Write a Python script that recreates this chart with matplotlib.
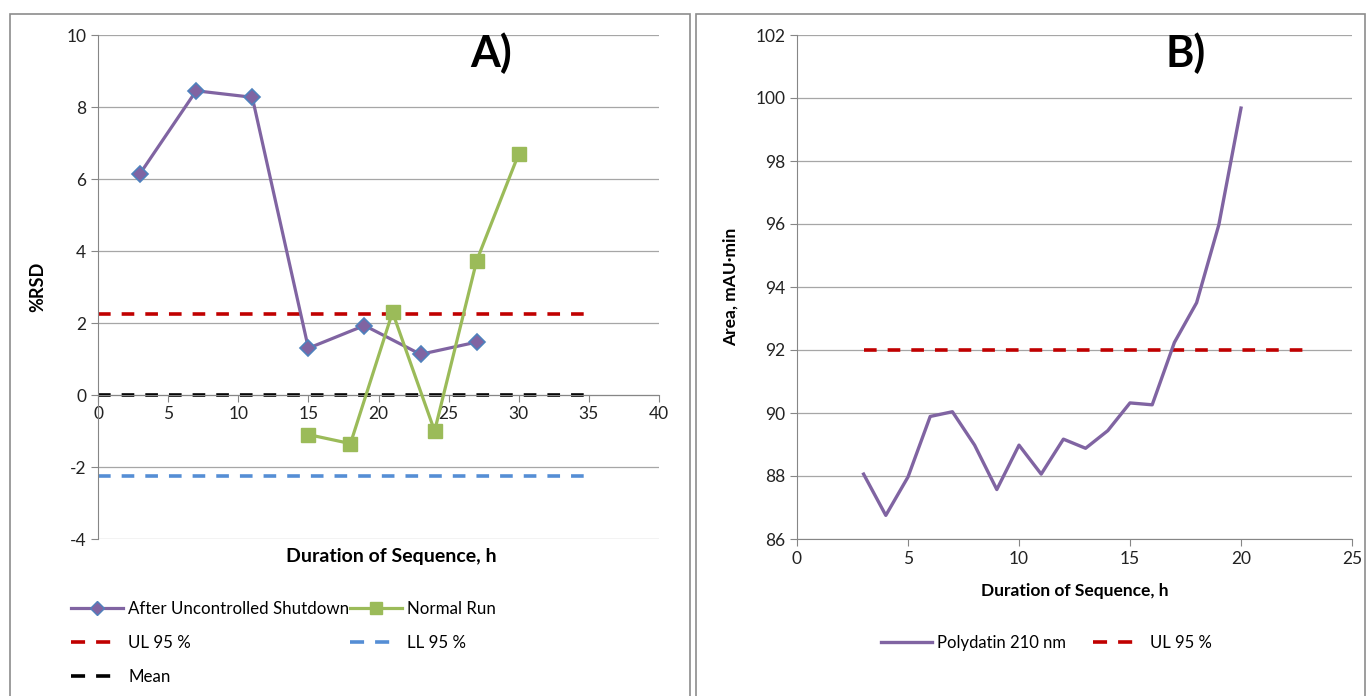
import matplotlib.pyplot as plt
from matplotlib.lines import Line2D
from matplotlib.patches import Rectangle

plt.rcParams['font.family'] = ['Lato', 'DejaVu Sans']
plt.rcParams['axes.unicode_minus'] = False

# panel A data
shutdown_x = [3, 7, 11, 15, 19, 23, 27]
shutdown_y = [6.15, 8.45, 8.27, 1.30, 1.93, 1.13, 1.47]
normal_x = [15, 18, 21, 24, 27, 30]
normal_y = [-1.10, -1.35, 2.30, -1.00, 3.73, 6.70]
limit_x = [0, 35]
ul_a = 2.24
ll_a = -2.24
mean_a = 0.0

# panel B data
poly_x = list(range(3, 21))
poly_y = [88.06, 86.75, 87.97, 89.89, 90.04, 88.98, 87.57, 88.98, 88.06,
          89.17, 88.88, 89.44, 90.32, 90.26, 92.24, 93.50, 95.97, 99.68]
ul_b_x = [3, 23]
ul_b = 92.0

purple = '#8064A2'
green = '#9BBB59'
red = '#C00000'
blue = '#558ED5'
grid = '#A6A6A6'

fig = plt.figure(figsize=(13.66, 6.96), dpi=100)

# panel borders
fig.patches.append(Rectangle((10 / 1366, -0.01), 680 / 1366, 1 - 14 / 696 + 0.01,
                             transform=fig.transFigure, fill=False, ec='#8C8C8C', lw=1.2))
fig.patches.append(Rectangle((696 / 1366, -0.01), 669 / 1366, 1 - 14 / 696 + 0.01,
                             transform=fig.transFigure, fill=False, ec='#8C8C8C', lw=1.2))


def excel_style(ax):
    for s in ['top', 'right']:
        ax.spines[s].set_visible(False)
    ax.spines['left'].set_color('#868686')
    ax.spines['bottom'].set_color('#868686')
    ax.grid(axis='y', color=grid, lw=0.9)
    ax.set_axisbelow(True)
    ax.tick_params(direction='out', length=5, color='#868686', labelsize=12.5, labelcolor='#222222')


LW = 2.6
dash = (0, (3.5, 3.05))
leg_dash = (0, (3.9, 3.05, 3.9, 3.6))

# ---- A ----
axA = fig.add_axes([98 / 1366, 1 - 539 / 696, (659 - 98) / 1366, (539 - 35) / 696])
excel_style(axA)
axA.set_xlim(0, 40)
axA.set_ylim(-4, 10)
axA.set_xticks(range(0, 41, 5))
axA.set_yticks(range(-4, 11, 2))
axA.spines['bottom'].set_position(('data', 0))
axA.tick_params(axis='x', pad=3)

axA.plot(limit_x, [ul_a, ul_a], color=red, lw=LW, ls=dash)
axA.plot(limit_x, [ll_a, ll_a], color=blue, lw=LW, ls=dash)
axA.plot(limit_x, [mean_a, mean_a], color='black', lw=LW, ls=dash)
axA.plot(shutdown_x, shutdown_y, color=purple, lw=2.3, marker='D', ms=8,
         mfc=purple, mec='#4F81BD', mew=1.2, zorder=4)
axA.plot(normal_x, normal_y, color=green, lw=2.3, marker='s', ms=10,
         mfc=green, mec=green, zorder=4)

axA.set_ylabel('%RSD', fontsize=13, fontweight='bold', labelpad=14)
axA.text(0.523, -0.035, 'Duration of Sequence, h', transform=axA.transAxes,
         ha='center', va='center', fontsize=14, fontweight='bold')
axA.text(0.7, 0.963, 'A)', transform=axA.transAxes, ha='center', va='center',
         fontsize=31, fontweight='bold')

handlesA = [
    Line2D([], [], color=purple, lw=2.3, marker='D', ms=7, mfc=purple, mec='#4F81BD'),
    Line2D([], [], color=red, lw=LW, ls=leg_dash),
    Line2D([], [], color='black', lw=LW, ls=leg_dash),
    Line2D([], [], color=green, lw=2.3, marker='s', ms=8, mfc=green, mec=green),
    Line2D([], [], color=blue, lw=LW, ls=leg_dash),
]
labelsA = ['After Uncontrolled Shutdown', 'UL 95 %', 'Mean', 'Normal Run', 'LL 95 %']
fig.legend(handlesA, labelsA, ncol=2, loc='upper left',
           bbox_to_anchor=(56 / 1366, 1 - 586 / 696), frameon=False,
           fontsize=12.2, handlelength=3.05, columnspacing=0.05, labelspacing=1.05,
           handletextpad=0.3)

# ---- B ----
axB = fig.add_axes([797 / 1366, 1 - 539 / 696, (1352 - 797) / 1366, (539 - 35) / 696])
excel_style(axB)
axB.set_xlim(0, 25)
axB.set_ylim(86, 102)
axB.set_xticks(range(0, 26, 5))
axB.set_yticks(range(86, 103, 2))

axB.plot(ul_b_x, [ul_b, ul_b], color=red, lw=LW, ls=dash)
axB.plot(poly_x, poly_y, color=purple, lw=2.4)

axB.set_ylabel('Area, mAU·min', fontsize=12.5, fontweight='bold', labelpad=12)
axB.set_xlabel('Duration of Sequence, h', fontsize=12.5, fontweight='bold', labelpad=12)
axB.text(0.7, 0.963, 'B)', transform=axB.transAxes, ha='center', va='center',
         fontsize=31, fontweight='bold')

handlesB = [Line2D([], [], color=purple, lw=2.4), Line2D([], [], color=red, lw=LW, ls=leg_dash)]
fig.legend(handlesB, ['Polydatin 210 nm', 'UL 95 %'], ncol=2, loc='center',
           bbox_to_anchor=(1046 / 1366, 1 - 643 / 696), frameon=False,
           fontsize=12, handlelength=3.1, columnspacing=1.6, handletextpad=0.3)

fig.savefig('out.png', dpi=100)
